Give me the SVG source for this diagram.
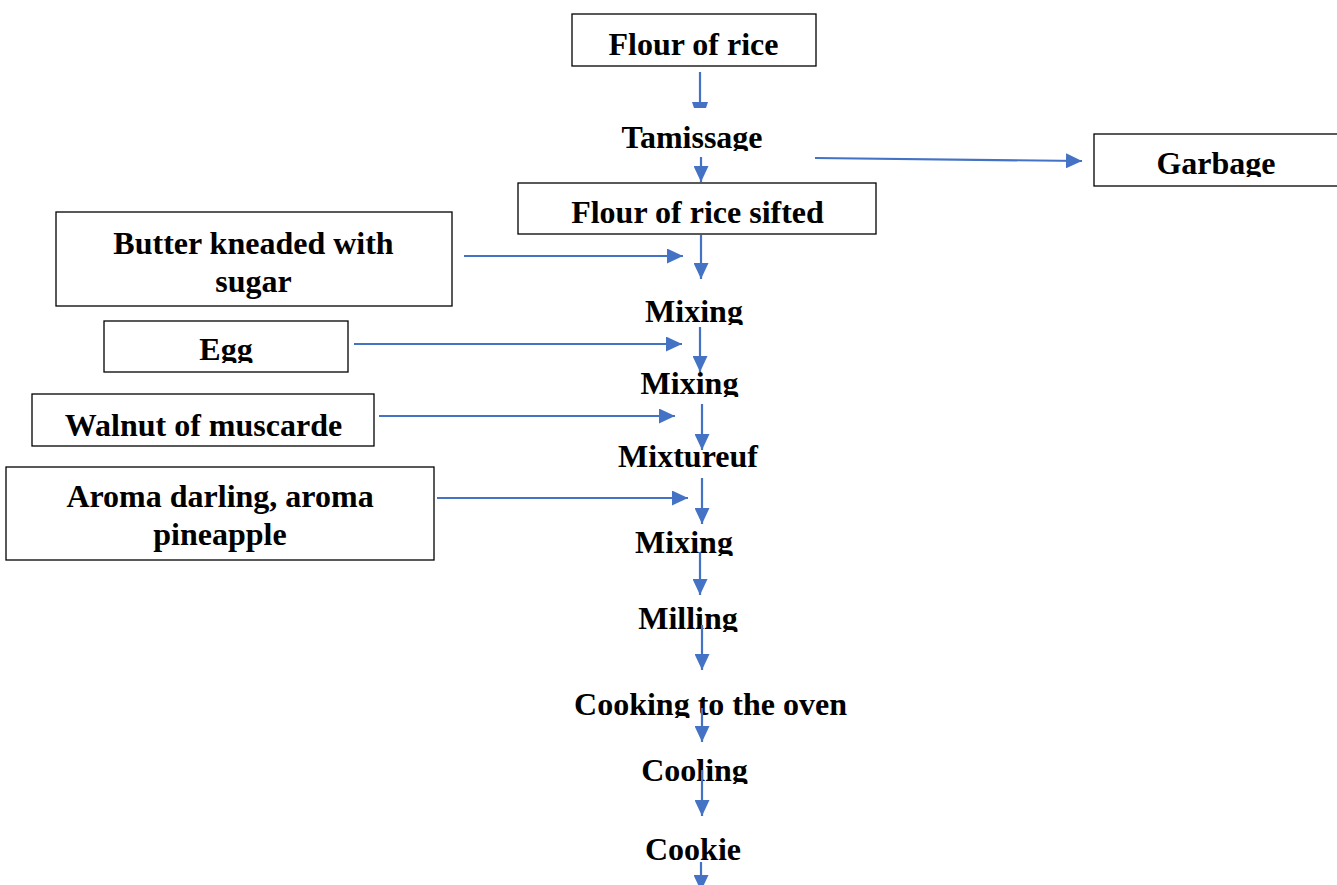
<svg xmlns="http://www.w3.org/2000/svg" width="1337" height="885" viewBox="0 0 1337 885">
<style>
.box{fill:#fff;stroke:#000;stroke-width:1.3}
.t{font-family:"Liberation Serif","Times New Roman",serif;font-weight:bold;font-size:32px;fill:#000;text-anchor:middle}
.c{stroke:#4472C4;stroke-width:2.2;fill:none}
</style>
<defs>
<marker id="ah" markerUnits="userSpaceOnUse" markerWidth="16" markerHeight="15" refX="16" refY="7.5" orient="auto">
<path d="M0,0 L16,7.5 L0,15 Z" fill="#4472C4"/>
</marker>
<clipPath id="cTam"><rect x="560" y="110" width="260" height="41"/></clipPath>
<clipPath id="cGar"><rect x="1100" y="140" width="237" height="37"/></clipPath>
<clipPath id="cMix1"><rect x="600" y="290" width="200" height="35"/></clipPath>
<clipPath id="cEgg"><rect x="110" y="325" width="230" height="38"/></clipPath>
<clipPath id="cMix2"><rect x="600" y="362" width="200" height="35"/></clipPath>
<clipPath id="cMix3"><rect x="600" y="520" width="200" height="36"/></clipPath>
<clipPath id="cMil"><rect x="600" y="595" width="200" height="37"/></clipPath>
<clipPath id="cCook"><rect x="560" y="680" width="300" height="38"/></clipPath>
<clipPath id="cCool"><rect x="600" y="748" width="200" height="36"/></clipPath>
</defs>

<g id="n-flour">
<rect class="box" x="572" y="14" width="244" height="52"/>
<text class="t" x="693.5" y="55">Flour of rice</text>
</g>
<g id="n-tamissage">
<text class="t" x="692" y="148" clip-path="url(#cTam)">Tamissage</text>
</g>
<g id="n-garbage">
<rect class="box" x="1094" y="134" width="250" height="52"/>
<text class="t" x="1216" y="174" clip-path="url(#cGar)">Garbage</text>
</g>
<g id="n-sifted">
<rect class="box" x="518" y="183" width="358" height="51"/>
<text class="t" x="697.5" y="223">Flour of rice sifted</text>
</g>
<g id="n-butter">
<rect class="box" x="56" y="212" width="396" height="94"/>
<text class="t" x="253.5" y="254">Butter kneaded with</text>
<text class="t" x="253.5" y="292">sugar</text>
</g>
<g id="n-mixing1">
<text class="t" x="694" y="322" clip-path="url(#cMix1)">Mixing</text>
</g>
<g id="n-egg">
<rect class="box" x="104" y="321" width="244" height="51"/>
<text class="t" x="226" y="360" clip-path="url(#cEgg)">Egg</text>
</g>
<g id="n-mixing2">
<text class="t" x="689.5" y="394" clip-path="url(#cMix2)">Mixing</text>
</g>
<g id="n-walnut">
<rect class="box" x="32" y="394" width="342" height="52"/>
<text class="t" x="203.5" y="436">Walnut of muscarde</text>
</g>
<g id="n-mixtureuf">
<text class="t" x="688" y="467">Mixtureuf</text>
</g>
<g id="n-aroma">
<rect class="box" x="6" y="467" width="428" height="93"/>
<text class="t" x="220" y="507">Aroma darling, aroma</text>
<text class="t" x="220" y="545">pineapple</text>
</g>
<g id="n-mixing3">
<text class="t" x="684" y="553" clip-path="url(#cMix3)">Mixing</text>
</g>
<g id="n-milling">
<text class="t" x="688" y="629" clip-path="url(#cMil)">Milling</text>
</g>
<g id="n-cooking">
<text class="t" x="710.5" y="715" clip-path="url(#cCook)">Cooking to the oven</text>
</g>
<g id="n-cooling">
<text class="t" x="694.5" y="781" clip-path="url(#cCool)">Cooling</text>
</g>
<g id="n-cookie">
<text class="t" x="693" y="860">Cookie</text>
</g>

<g id="connectors">
<line class="c" x1="700" y1="72" x2="700" y2="103"/>
<polygon points="692,102 708,102 706,108 694,108" fill="#4472C4"/>
<line class="c" x1="701" y1="157" x2="701" y2="182" marker-end="url(#ah)"/>
<line class="c" x1="815" y1="158" x2="1082" y2="161" marker-end="url(#ah)"/>
<line class="c" x1="701" y1="235" x2="701" y2="279" marker-end="url(#ah)"/>
<line class="c" x1="464" y1="256" x2="683" y2="256" marker-end="url(#ah)"/>
<line class="c" x1="700" y1="327" x2="700" y2="372" marker-end="url(#ah)"/>
<line class="c" x1="354" y1="344" x2="682" y2="344" marker-end="url(#ah)"/>
<line class="c" x1="702" y1="404" x2="702" y2="450" marker-end="url(#ah)"/>
<line class="c" x1="379" y1="416" x2="675" y2="416" marker-end="url(#ah)"/>
<line class="c" x1="702" y1="478" x2="702" y2="524" marker-end="url(#ah)"/>
<line class="c" x1="437" y1="498" x2="688" y2="498" marker-end="url(#ah)"/>
<line class="c" x1="700" y1="552" x2="700" y2="595" marker-end="url(#ah)"/>
<line class="c" x1="702" y1="625" x2="702" y2="670" marker-end="url(#ah)"/>
<line class="c" x1="702" y1="708" x2="702" y2="742" marker-end="url(#ah)"/>
<line class="c" x1="702" y1="770" x2="702" y2="816" marker-end="url(#ah)"/>
<line class="c" x1="701" y1="862" x2="701" y2="891" marker-end="url(#ah)"/>
</g>
</svg>
